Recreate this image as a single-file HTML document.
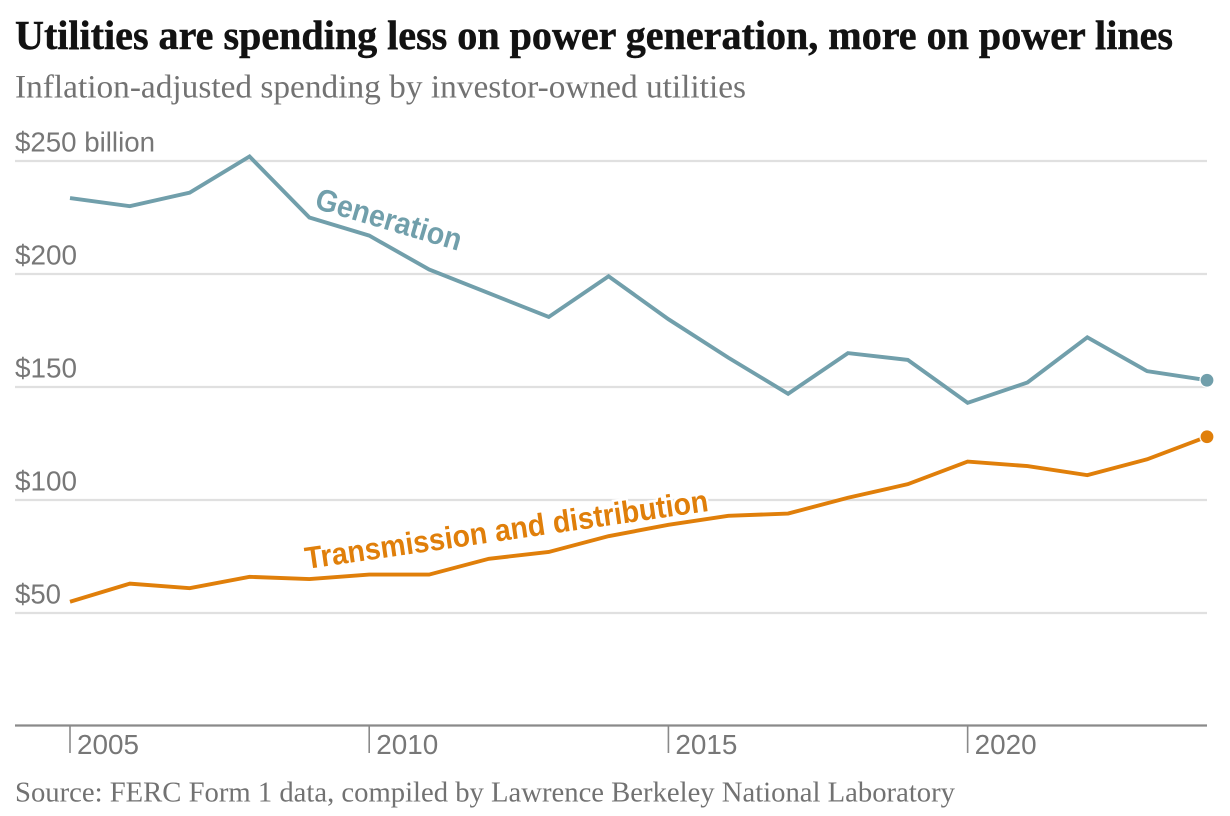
<!DOCTYPE html>
<html lang="en">
<head>
<meta charset="utf-8">
<title>Utilities are spending less on power generation, more on power lines</title>
<style>
html,body{margin:0;padding:0;background:#fff;width:1230px;height:816px;overflow:hidden}
svg{display:block}
.serif{font-family:"Liberation Serif",serif}
.sans{font-family:"Liberation Sans",sans-serif}
</style>
</head>
<body>
<svg id="chart" width="1230" height="816" viewBox="0 0 1230 816" xmlns="http://www.w3.org/2000/svg">
  <text class="serif" x="15" y="49" font-size="41" font-weight="700" fill="#121212" stroke="#121212" stroke-width="0.5" textLength="1158" lengthAdjust="spacingAndGlyphs">Utilities are spending less on power generation, more on power lines</text>
  <text class="serif" x="15" y="97.5" font-size="32.5" fill="#727272" textLength="731" lengthAdjust="spacingAndGlyphs">Inflation-adjusted spending by investor-owned utilities</text>
  <g id="grid"></g>
  <g id="xaxis"></g>
  <g id="series"></g>
  <text class="serif" x="15" y="801.5" font-size="28" fill="#727272" textLength="940" lengthAdjust="spacingAndGlyphs">Source: FERC Form 1 data, compiled by Lawrence Berkeley National Laboratory</text>
</svg>
<script>
const years = [2005,2006,2007,2008,2009,2010,2011,2012,2013,2014,2015,2016,2017,2018,2019,2020,2021,2022,2023,2024];
const generation = [233.6,230,236,252,225,217,202,191.5,181,199,180,163,147,165,162,143,152,172,157,153];
const transmission = [55,63,61,66,65,67,67,74,77,84,89,93,94,101,107,117,115,111,118,128];
const yTicks = [50,100,150,200,250];
const yTickLabels = ["$50","$100","$150","$200","$250 billion"];
const xTicks = [2005,2010,2015,2020];

const NS = "http://www.w3.org/2000/svg";
const x = v => 70 + (v - 2005) * (1207 - 70) / 19;
const y = v => 726 - v * 2.26;
function make(tag, attrs, parent, txt) {
  const el = document.createElementNS(NS, tag);
  for (const k in attrs) el.setAttribute(k, attrs[k]);
  if (txt !== undefined) el.textContent = txt;
  parent.appendChild(el);
  return el;
}
const grid = document.getElementById("grid");
const xaxis = document.getElementById("xaxis");
const series = document.getElementById("series");

yTicks.forEach((t, i) => {
  const line = make("line", {x1:15, x2:1207, y1:y(t), y2:y(t), stroke:"#e0e0e0", "stroke-width":2.2}, grid);
  
  
  const width = t === 250 ? 140 : (t < 100 ? 46 : 62);
  const lab = make("text", {"class":"sans", x:15, y:y(t) - 9.5, "font-size":27.5, fill:"#777", textLength:width, lengthAdjust:"spacingAndGlyphs"}, grid, yTickLabels[i]);
  
  
});

const base = make("line", {x1:15, x2:1207, y1:725.5, y2:725.5, stroke:"#8a8a8a", "stroke-width":2.2}, xaxis);


xTicks.forEach(t => {
  const tick = make("line", {x1:x(t), x2:x(t), y1:726, y2:753, stroke:"#8a8a8a", "stroke-width":1.6}, xaxis);
  
  
  const lab = make("text", {"class":"sans", x:x(t) + 7, y:754, "font-size":27.5, fill:"#777", textLength:62, lengthAdjust:"spacingAndGlyphs"}, xaxis, String(t));
  
  
});

function pathFor(vals) {
  return vals.map((v, i) => (i ? "L" : "M") + x(years[i]).toFixed(2) + " " + y(v).toFixed(2)).join(" ");
}

const genColor = "#719fab";
const tdColor = "#e07f0a";

const genLine = make("path", {d:pathFor(generation), fill:"none", stroke:genColor, "stroke-width":3.9, "stroke-linejoin":"miter"}, series);


const tdLine = make("path", {d:pathFor(transmission), fill:"none", stroke:tdColor, "stroke-width":3.9, "stroke-linejoin":"miter"}, series);



const genDot = make("circle", {cx:x(2024), cy:y(generation[19]), r:7, fill:genColor, stroke:"#fff", "stroke-width":1.2}, series);


const tdDot = make("circle", {cx:x(2024), cy:y(transmission[19]), r:7, fill:tdColor, stroke:"#fff", "stroke-width":1.2}, series);



const genLabel = make("text", {"class":"sans", x:0, y:0, transform:"translate(313.5 208) rotate(16.5)", "font-size":31, "font-weight":700, fill:genColor, textLength:151, lengthAdjust:"spacingAndGlyphs"}, series, "Generation");



const tdHalo = make("text", {"class":"sans", x:0, y:0, transform:"translate(306.5 569) rotate(-8.2)", "font-size":31, "font-weight":700, fill:"#fff", stroke:"#fff", "stroke-width":5, textLength:407, lengthAdjust:"spacingAndGlyphs"}, series, "Transmission and distribution");


const tdLabel = make("text", {"class":"sans", x:0, y:0, transform:"translate(306.5 569) rotate(-8.2)", "font-size":31, "font-weight":700, fill:tdColor, textLength:407, lengthAdjust:"spacingAndGlyphs"}, series, "Transmission and distribution");


</script>
</body>
</html>
